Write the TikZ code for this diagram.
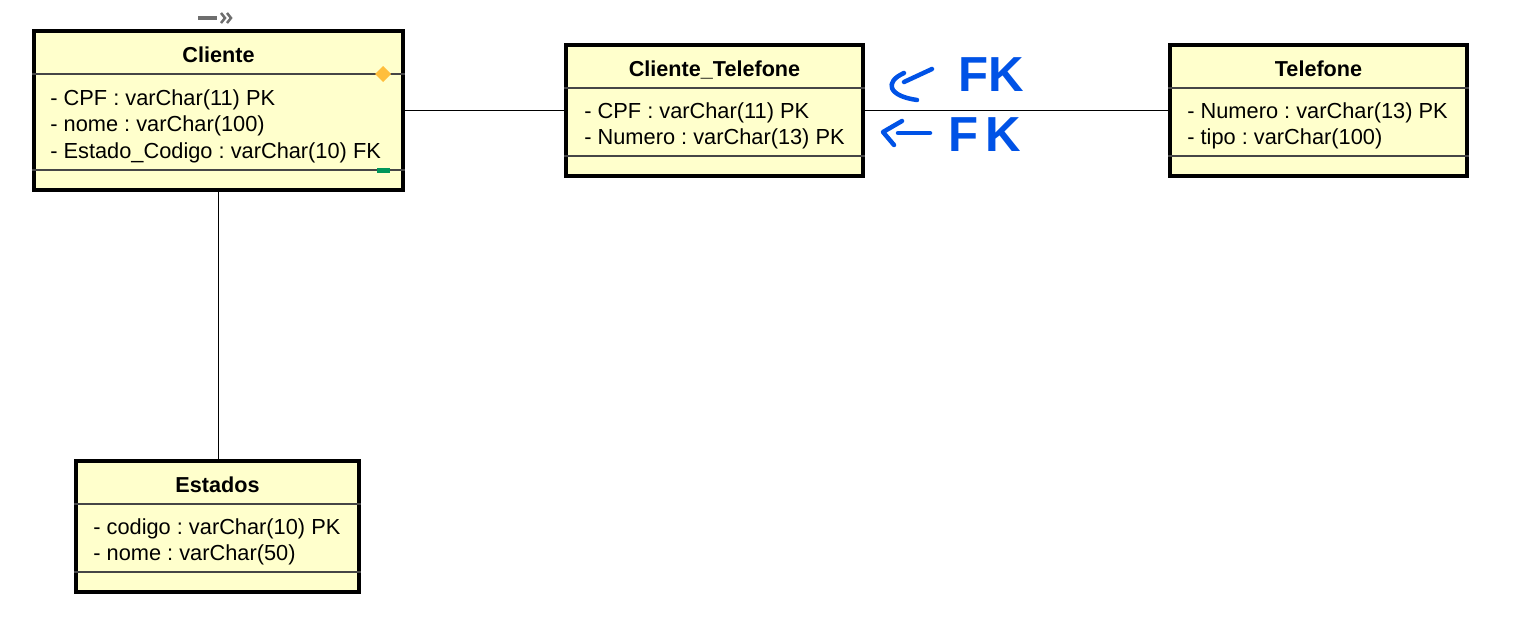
\documentclass[tikz,border=0pt]{standalone}
\usepackage{fontspec}
\setmainfont{Liberation Sans}
\usepackage{tikz}
\frenchspacing

\definecolor{classfill}{RGB}{255,255,204}
\definecolor{sepgray}{RGB}{70,70,70}
\definecolor{ink}{RGB}{0,82,230}
\definecolor{markorange}{RGB}{255,190,60}
\definecolor{markgreen}{RGB}{0,150,90}
\definecolor{icongray}{RGB}{110,110,110}

\begin{document}
\begin{tikzpicture}[x=0.02cm, y=-0.02cm,
    classbox/.style={draw, rectangle, line width=0.08cm, fill=classfill},
    classtitle/.style={font=\bfseries\fontsize{12.3}{14}\selectfont, anchor=base, inner sep=0pt},
    attr/.style={font=\fontsize{12.4}{14}\selectfont, anchor=base west, inner sep=0pt},
    sepline/.style={draw=sepgray, line width=0.7pt},
    link/.style={draw, line width=0.7pt},
    hand/.style={draw=ink, line width=0.09cm, line cap=round, line join=round},
    fk/.style={text=ink, font=\bfseries\fontsize{28}{30}\selectfont, inner sep=0pt}]

    \useasboundingbox (0,0) rectangle (1538,643);

    % Define the four tables
    \node[classbox, minimum width=7.38cm, minimum height=3.18cm] (cliente) at (218.5,110.5) {};
    \node[classbox, minimum width=5.94cm, minimum height=2.62cm] (clientetel) at (714.5,110.5) {};
    \node[classbox, minimum width=5.94cm, minimum height=2.62cm] (telefone) at (1318.5,110.5) {};
    \node[classbox, minimum width=5.66cm, minimum height=2.62cm] (estados) at (217.5,526.5) {};

    % Compartment lines
    \draw[sepline] (cliente.west |- 0,74) -- (cliente.east |- 0,74);
    \draw[sepline] (cliente.west |- 0,170) -- (cliente.east |- 0,170);
    \draw[sepline] (clientetel.west |- 0,88) -- (clientetel.east |- 0,88);
    \draw[sepline] (clientetel.west |- 0,156) -- (clientetel.east |- 0,156);
    \draw[sepline] (telefone.west |- 0,88) -- (telefone.east |- 0,88);
    \draw[sepline] (telefone.west |- 0,156) -- (telefone.east |- 0,156);
    \draw[sepline] (estados.west |- 0,504) -- (estados.east |- 0,504);
    \draw[sepline] (estados.west |- 0,572) -- (estados.east |- 0,572);

    % Titles and attributes
    \node[classtitle] (clientename) at (218.5,62) {Cliente};
    \node[attr] (clientecpf) at (50,105) {- CPF : varChar(11) PK};
    \node[attr] (clientenome) at (50,131.5) {- nome : varChar(100)};
    \node[attr] (clienteestado) at (50,158) {- Estado\_Codigo : varChar(10) FK};

    \node[classtitle] (clientetelname) at (714.5,76) {Cliente\_Telefone};
    \node[attr] (clientetelcpf) at (584,118) {- CPF : varChar(11) PK};
    \node[attr] (clientetelnum) at (584,144.5) {- Numero : varChar(13) PK};

    \node[classtitle] (telefonename) at (1318.5,76) {Telefone};
    \node[attr] (telefonenum) at (1187,118) {- Numero : varChar(13) PK};
    \node[attr] (telefonetipo) at (1187,144.5) {- tipo : varChar(100)};

    \node[classtitle] (estadosname) at (217.5,492) {Estados};
    \node[attr] (estadoscod) at (93,534) {- codigo : varChar(10) PK};
    \node[attr] (estadosnome) at (93,560.5) {- nome : varChar(50)};

    % Markers on Cliente
    \fill[markorange] (383,66) -- (391,74) -- (383,82) -- (375,74) -- cycle;
    \fill[markgreen] (377,168) rectangle (390,173);
    \draw[icongray, line width=0.08cm] (198,18) -- (217,18);
    \draw[icongray, line width=0.05cm] (221,13) -- (225,18) -- (221,23);
    \draw[icongray, line width=0.05cm] (227,13) -- (231,18) -- (227,23);

    % Relations
    \draw[link] (cliente.east) -- (clientetel.west);
    \draw[link] (clientetel.east) -- (telefone.west);
    \draw[link] (cliente.south) -- (cliente.south |- estados.north);

    % Handwritten notes
    \node[fk] (fkcpf) at (991,75) {FK};
    \node[fk] (fknum) at (985,135) {F\hspace{4pt}K};
    \draw[hand] (932,69) -- (904,82);
    \draw[hand] (904,73) .. controls (884,82) and (888,96) .. (917,100);
    \draw[hand] (902,121) -- (883,132) -- (894,145);
    \draw[hand] (898,133) -- (930,133);
\end{tikzpicture}
\end{document}
